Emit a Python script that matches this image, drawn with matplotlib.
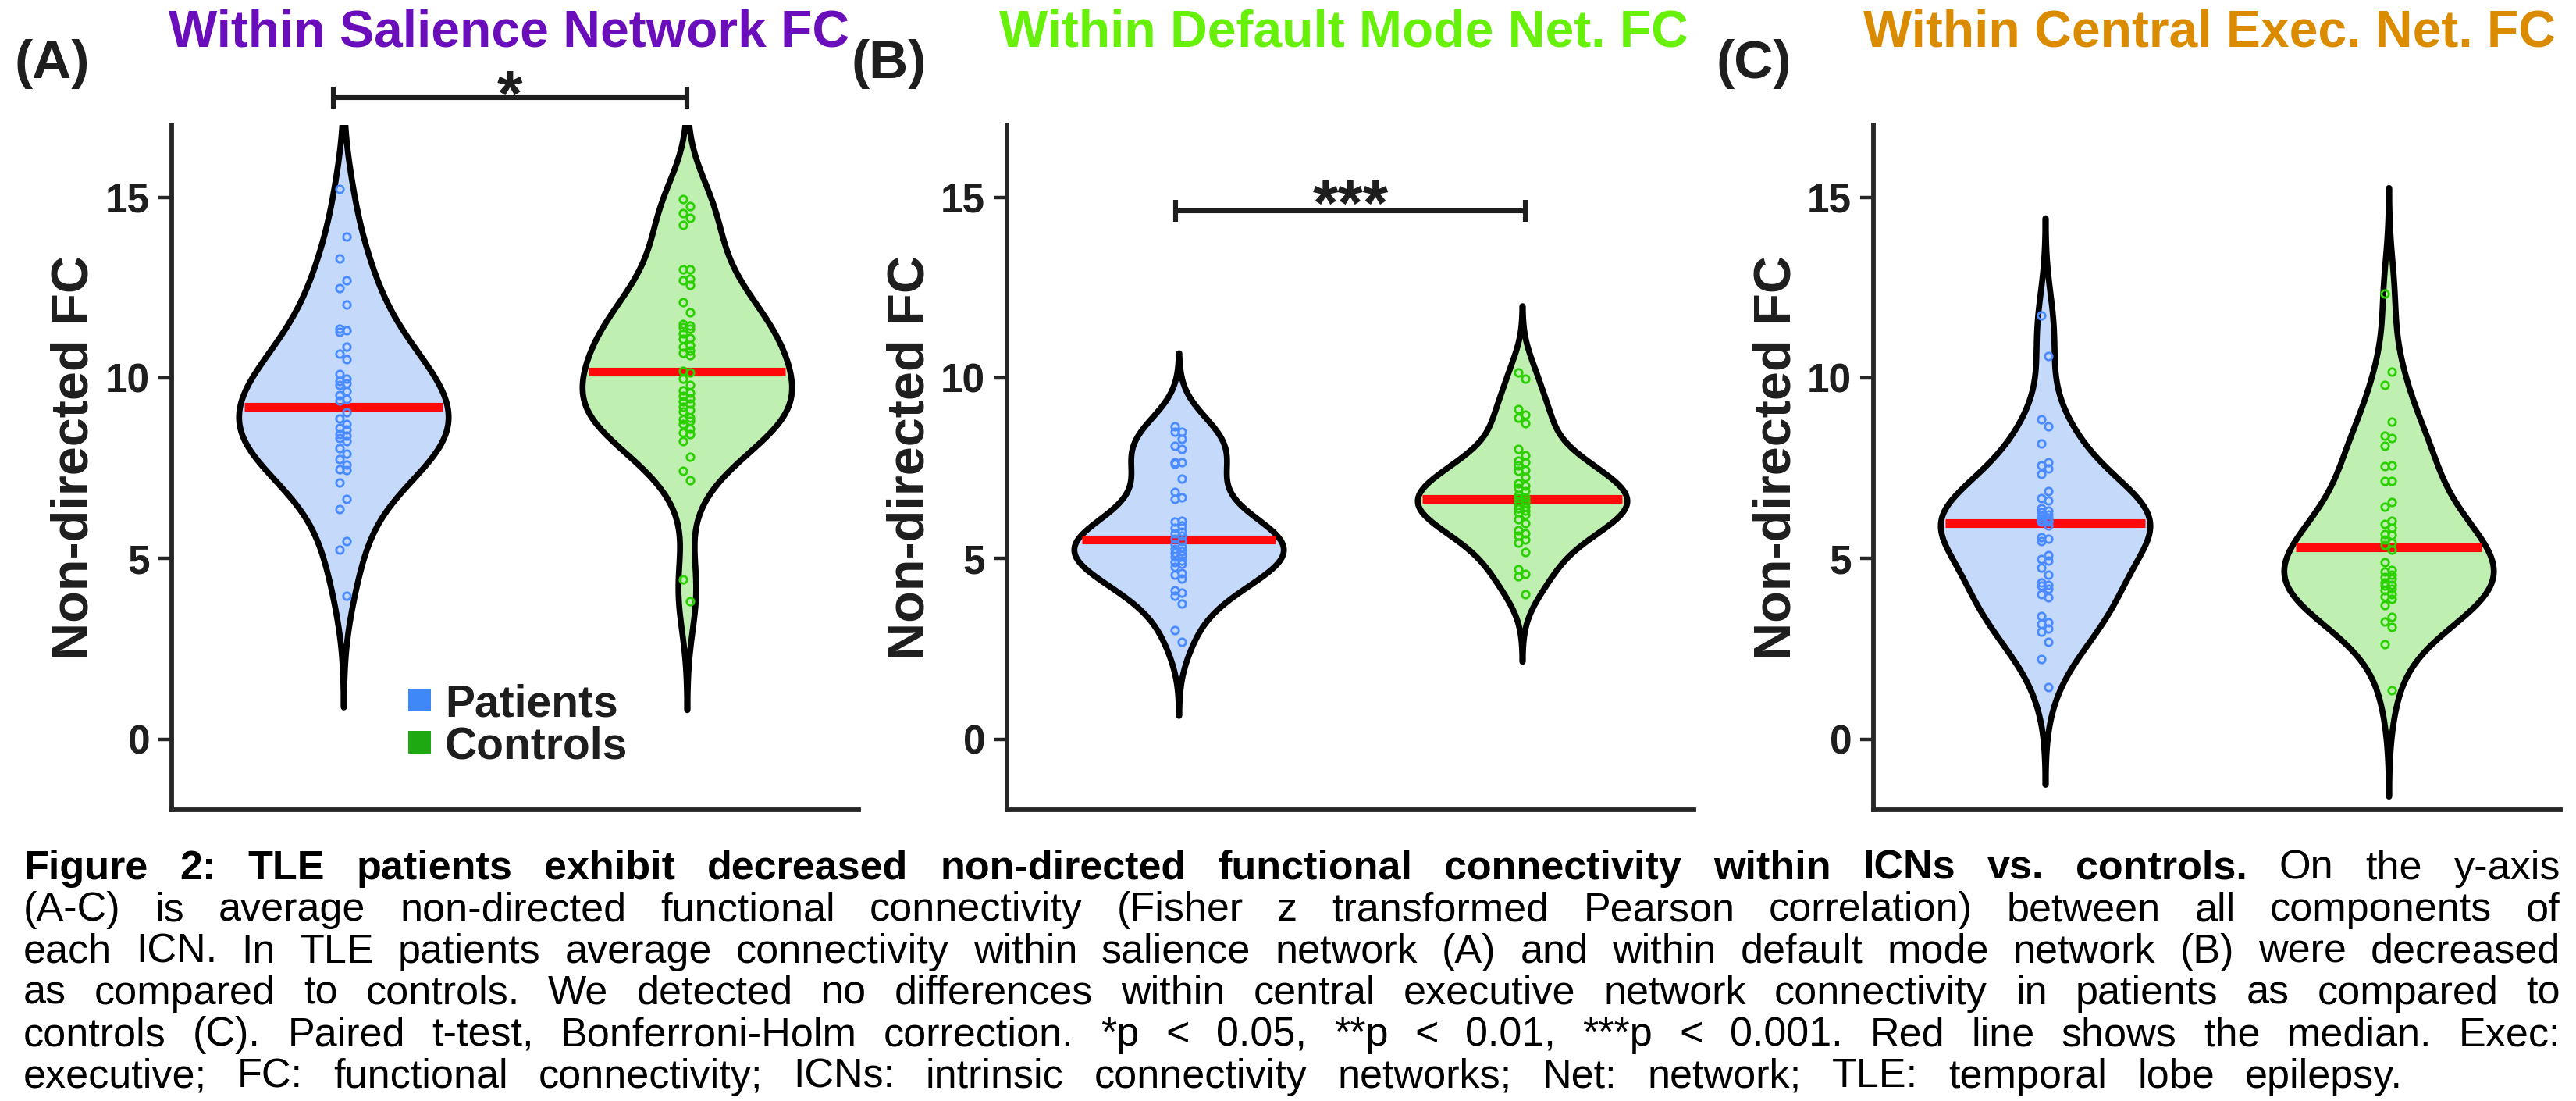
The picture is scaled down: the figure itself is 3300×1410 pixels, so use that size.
import numpy as np
import matplotlib
matplotlib.use("Agg")
import matplotlib.pyplot as plt
from matplotlib.patches import Rectangle

plt.rcParams['font.family'] = ['Liberation Sans', 'DejaVu Sans']

W, H, DPI = 3300, 1410, 100

# ---------------- data ----------------
groups = ["Patients", "Controls"]
titles = ["Within Salience Network FC", "Within Default Mode Net. FC", "Within Central Exec. Net. FC"]
panel_labels = ["(A)", "(B)", "(C)"]
ylabel = "Non-directed FC"
yticks = [0, 5, 10, 15]
sig_labels = ["*", "***", None]

sn_patients = [15.22, 13.92, 13.31, 12.69, 12.49, 12.04, 11.37, 11.32, 11.27, 10.87, 10.66, 10.51,
               10.11, 9.97, 9.92, 9.84, 9.80, 9.64, 9.53, 9.41, 9.37, 9.04, 8.87, 8.73, 8.62, 8.58,
               8.45, 8.41, 8.33, 8.25, 8.06, 7.91, 7.75, 7.60, 7.48, 7.46, 7.11, 6.65, 6.37, 5.48,
               5.24, 3.98]
sn_controls = [14.95, 14.75, 14.55, 14.42, 14.24, 13.01, 13.00, 12.75, 12.71, 12.58, 12.09, 11.82,
               11.49, 11.44, 11.40, 11.36, 11.23, 11.10, 11.07, 10.91, 10.87, 10.76, 10.68, 10.63,
               10.20, 10.16, 9.97, 9.80, 9.65, 9.58, 9.50, 9.43, 9.35, 9.29, 9.20, 9.12, 9.08, 8.90,
               8.85, 8.81, 8.73, 8.60, 8.48, 8.45, 8.25, 7.82, 7.42, 7.16, 4.43, 3.82]
dmn_patients = [8.66, 8.50, 8.50, 8.32, 8.12, 8.04, 7.66, 7.66, 7.62, 7.21, 6.85, 6.70, 6.65, 6.05,
                6.02, 5.92, 5.85, 5.74, 5.69, 5.63, 5.55, 5.49, 5.40, 5.33, 5.27, 5.20, 5.15, 5.09,
                5.06, 4.95, 4.91, 4.85, 4.77, 4.59, 4.55, 4.44, 4.12, 4.05, 3.98, 3.76, 3.02, 2.69]
dmn_controls = [10.14, 9.98, 9.13, 8.99, 8.90, 8.75, 8.03, 7.86, 7.71, 7.66, 7.58, 7.44, 7.42, 7.26,
                7.08, 7.01, 6.95, 6.86, 6.75, 6.70, 6.68, 6.61, 6.58, 6.54, 6.50, 6.43, 6.40, 6.32,
                6.28, 6.21, 6.08, 5.98, 5.78, 5.70, 5.63, 5.53, 5.45, 5.17, 4.71, 4.57, 4.52, 4.01]
cen_patients = [11.73, 10.61, 8.85, 8.65, 8.18, 7.66, 7.58, 7.50, 7.35, 6.86, 6.68, 6.61, 6.39, 6.32,
                6.28, 6.22, 6.18, 6.14, 6.10, 6.07, 6.05, 6.03, 6.02, 5.92, 5.60, 5.55, 5.49, 5.09,
                4.98, 4.95, 4.75, 4.55, 4.34, 4.28, 4.26, 4.16, 4.01, 3.92, 3.40, 3.24, 3.20, 3.07,
                2.98, 2.69, 2.23, 1.45]
cen_controls = [12.33, 10.18, 9.80, 8.79, 8.39, 8.34, 8.12, 7.58, 7.55, 7.15, 7.15, 6.56, 6.44, 6.05,
                5.95, 5.85, 5.67, 5.65, 5.53, 5.45, 5.38, 5.25, 4.89, 4.68, 4.63, 4.55, 4.48, 4.44,
                4.34, 4.28, 4.26, 4.16, 4.12, 4.01, 3.94, 3.89, 3.72, 3.38, 3.25, 3.10, 2.64, 1.36]

panel_data = [(sn_patients, sn_controls), (dmn_patients, dmn_controls), (cen_patients, cen_controls)]

caption_bold = ("Figure 2: TLE patients exhibit decreased non-directed functional connectivity "
                "within ICNs vs. controls.")
caption_lines = [
    caption_bold + " On the y-axis",
    "(A-C) is average non-directed functional connectivity (Fisher z transformed Pearson correlation) between all components of",
    "each ICN. In TLE patients average connectivity within salience network (A) and within default mode network (B) were decreased",
    "as compared to controls. We detected no differences within central executive network connectivity in patients as compared to",
    "controls (C). Paired t-test, Bonferroni-Holm correction. *p < 0.05, **p < 0.01, ***p < 0.001. Red line shows the median. Exec:",
    "executive; FC: functional connectivity; ICNs: intrinsic connectivity networks; Net: network; TLE: temporal lobe epilepsy.",
]

# ---------------- style ----------------
title_colors = ["#6A0DBB", "#66F00A", "#DB8B00"]
fill_colors = ["#C5D9FA", "#BFF0B2"]
point_colors = ["#4A8CFF", "#2AD000"]
legend_colors = ["#3F88F8", "#1EA812"]
dark = "#1E1E1E"

fig = plt.figure(figsize=(W / DPI, H / DPI), dpi=DPI)


def fx(x):
    return x / W


def fy(y):
    return 1 - y / H


ax_left = [220, 1290, 2400]
ax_w, ax_top, ax_bot = 880, 160, 1037
title_right = [1088, 2163, 3274]
label_left = [18, 1091, 2198]


def kde_curve(vals, bw_factor=1.0, cut=2.8, npts=500):
    v = np.asarray(vals, dtype=float)
    bw = bw_factor * v.std(ddof=1) * len(v) ** (-0.2)
    y = np.linspace(v.min() - cut * bw, v.max() + cut * bw, npts)
    d = np.exp(-0.5 * ((y[:, None] - v[None, :]) / bw) ** 2).sum(axis=1)
    return y, d


axes = []
for p in range(3):
    ax = fig.add_axes([fx(ax_left[p]), fy(ax_bot), ax_w / W, (ax_bot - ax_top) / H])
    axes.append(ax)
    ax.set_xlim(0.5, 2.5)
    ax.set_ylim(-1.95, 17.0)
    for s in ["top", "right"]:
        ax.spines[s].set_visible(False)
    for s in ["left", "bottom"]:
        ax.spines[s].set_linewidth(4.2)
        ax.spines[s].set_color("#262626")
    ax.set_xticks([])
    ax.set_yticks(yticks, labels=[str(t) for t in yticks], fontsize=37, fontweight="bold")
    ax.tick_params(axis="y", length=12, width=3.2, pad=8, color="#262626", labelcolor=dark)

    for g in range(2):
        vals = np.asarray(panel_data[p][g], dtype=float)
        pos = g + 1
        y, d = kde_curve(vals)
        hw = d / d.max() * 0.305
        ax.fill_betweenx(y, pos - hw, pos + hw, facecolor=fill_colors[g], edgecolor="black",
                         linewidth=5.5, joinstyle="round", zorder=1)
        med = np.median(vals)
        w = np.interp(med, y, hw) - 0.014
        ax.hlines(med, pos - w, pos + w, color="#FF0A0A", linewidth=8, zorder=3)
        n = len(vals)
        order = np.argsort(-vals)
        offs = np.empty(n)
        offs[order] = np.where(np.arange(n) % 2 == 0, -0.011, 0.010)
        ax.plot(pos + offs, vals, linestyle="none", marker="o", markersize=6.8,
                markerfacecolor="none", markeredgecolor=point_colors[g], markeredgewidth=2.0,
                zorder=4, clip_on=False)

    # titles, panel labels, y label
    fig.text(fx(title_right[p]), fy(60), titles[p], color=title_colors[p], fontsize=47.5,
             fontweight="bold", ha="right", va="baseline")
    fig.text(fx(label_left[p]), fy(100), panel_labels[p], color=dark, fontsize=50,
             fontweight="bold", ha="left", va="baseline")
    fig.text(fx(ax_left[p] - 124), fy(586), ylabel, color=dark, fontsize=48, fontweight="bold",
             rotation=90, ha="center", va="center")

# significance bars
sig_specs = [(0.97, 2.0, 17.75, 0.30, 17.25), (0.99, 2.01, 14.63, 0.30, 14.22)]
for p, spec in enumerate(sig_specs):
    ax = axes[p]
    x0, x1, yb, capd, ystar = spec
    ax.plot([x0, x1], [yb, yb], color=dark, lw=4.4, clip_on=False, solid_capstyle="butt")
    for xx in (x0, x1):
        ax.plot([xx, xx], [yb - capd, yb + capd], color=dark, lw=4.4, clip_on=False,
                solid_capstyle="butt")
    ax.text((x0 + x1) / 2, ystar, sig_labels[p], ha="center", va="baseline", fontsize=60,
            fontweight="bold", color=dark, clip_on=False)

# legend (panel A)
leg_rows = [896, 950]
for g in range(2):
    sq = 29
    fig.patches.append(Rectangle((fx(523), fy(leg_rows[g] + sq / 2)), sq / W, sq / H,
                                 transform=fig.transFigure, facecolor=legend_colors[g],
                                 edgecolor="none"))
    fig.text(fx(570), fy(leg_rows[g]), groups[g], fontsize=41, fontweight="bold", color=dark,
             ha="left", va="center_baseline")

# caption, fully justified (last line spread as in the original layout)
cap_fs = 37.5
cap_x0 = 30
cap_right = [3280, 3280, 3280, 3280, 3280, 3078]
cap_base0, cap_dy = 1126, 53.3
renderer = fig.canvas.get_renderer()
n_bold = len(caption_bold.split())
for i, line in enumerate(caption_lines):
    words = line.split()
    objs = []
    for j, wd in enumerate(words):
        weight = "bold" if (i == 0 and j < n_bold) else "normal"
        objs.append(fig.text(0, fy(cap_base0 + i * cap_dy), wd, fontsize=cap_fs, fontweight=weight,
                             color="black", ha="left", va="baseline"))
    widths = [o.get_window_extent(renderer).width for o in objs]
    gap = (cap_right[i] - cap_x0 - sum(widths)) / (len(words) - 1)
    x = cap_x0
    for o, wdt in zip(objs, widths):
        o.set_x(fx(x))
        x += wdt + gap

fig.savefig("out.png", dpi=DPI)
